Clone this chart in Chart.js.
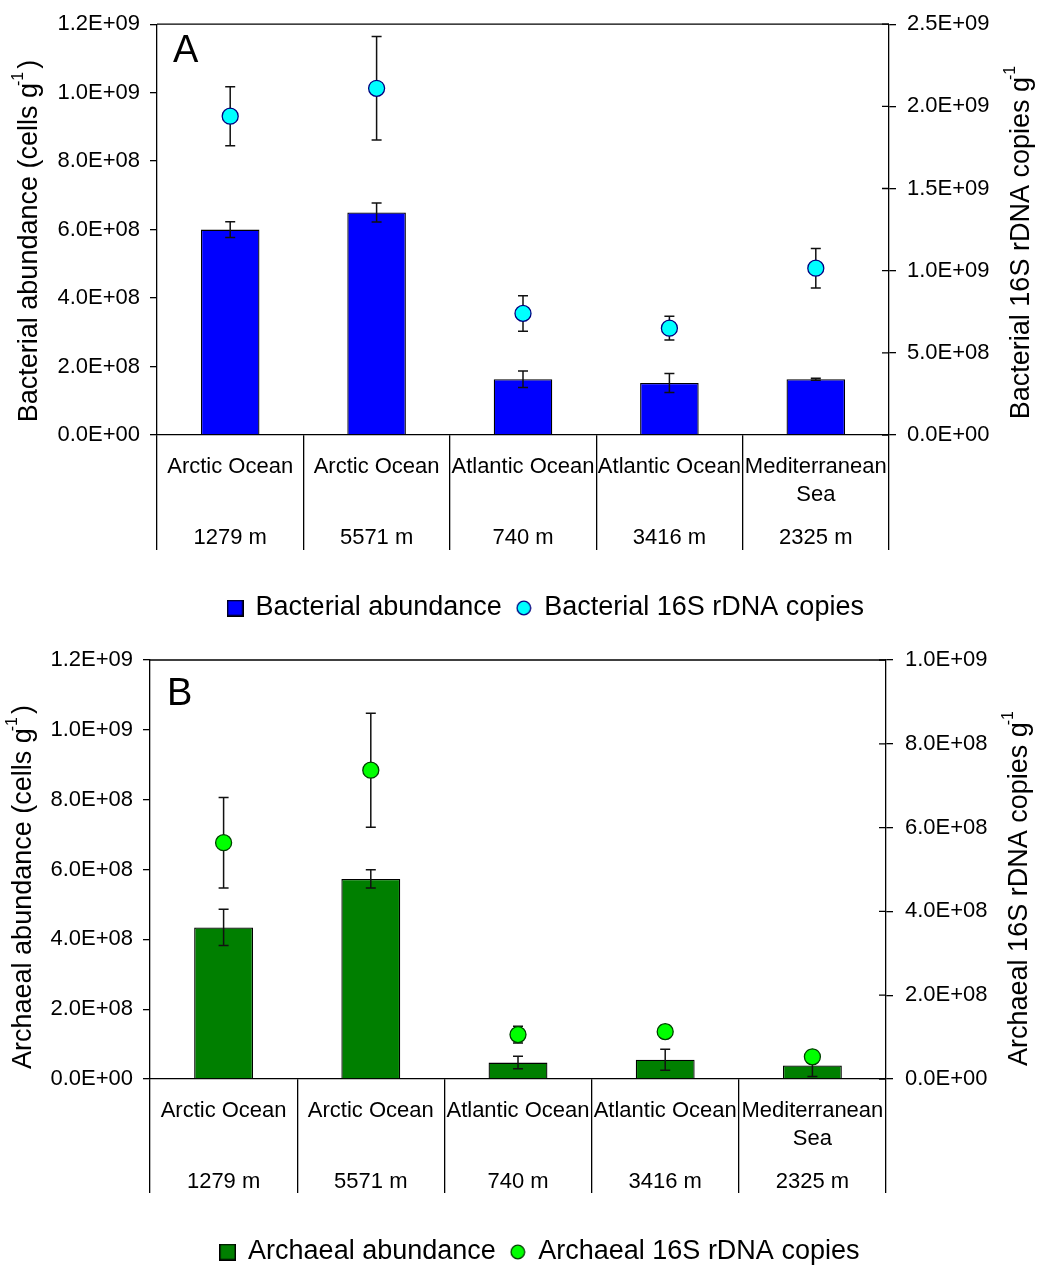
<!DOCTYPE html>
<html>
<head>
<meta charset="utf-8">
<script src="https://cdn.jsdelivr.net/npm/chart.js@4.4.0/dist/chart.umd.min.js"></script>
<style>
  html, body { margin: 0; padding: 0; background: #fff; overflow: hidden; }
  canvas { position: absolute; left: 0; }
  #chartA { top: 0; }
  #chartB { top: 634px; }
</style>
</head>
<body>
<canvas id="chartA" width="1042" height="634"></canvas>
<canvas id="chartB" width="1042" height="646"></canvas>
<script>
// categories (site name lines + depth)
const siteNames = [["Arctic Ocean"], ["Arctic Ocean"], ["Atlantic Ocean"], ["Atlantic Ocean"], ["Mediterranean", "Sea"]];
const depths = ["1279 m", "5571 m", "740 m", "3416 m", "2325 m"];

// panel A - bacteria
const bactAbundance = [6.0e8, 6.5e8, 1.63e8, 1.52e8, 1.63e8];
const bactAbundanceErr = [2.3e7, 2.8e7, 2.4e7, 2.8e7, 3e6];
const bactCopies = [1.94e9, 2.11e9, 7.4e8, 6.5e8, 1.015e9];
const bactCopiesErr = [1.8e8, 3.15e8, 1.08e8, 7.2e7, 1.2e8];

// panel B - archaea
const archAbundance = [4.34e8, 5.73e8, 4.7e7, 5.5e7, 3.9e7];
const archAbundanceErr = [5.2e7, 2.6e7, 1.8e7, 3.0e7, 3.2e7];
const archCopies = [5.64e8, 7.37e8, 1.06e8, 1.13e8, 5.3e7];
const archCopiesErr = [1.08e8, 1.36e8, 2.0e7, 1.5e7, 1.5e7];

// axis ticks
const abundanceTicks = [0, 2e8, 4e8, 6e8, 8e8, 1.0e9, 1.2e9];
const bactCopyTicks = [0, 5e8, 1.0e9, 1.5e9, 2.0e9, 2.5e9];
const archCopyTicks = [0, 2e8, 4e8, 6e8, 8e8, 1.0e9];

const FONT = "'Liberation Sans', Arial, Helvetica, sans-serif";
Chart.defaults.font.family = FONT;
Chart.defaults.color = "#000";

function fmtE(v) {
  const [m, e] = Number(v).toExponential(1).split("e");
  const sign = e[0] === "-" ? "-" : "+";
  return m + "E" + sign + e.replace(/[+-]/, "").padStart(2, "0");
}

function legendSquare(fill) {
  const c = document.createElement("canvas");
  c.width = 17; c.height = 17;
  const g = c.getContext("2d");
  g.fillStyle = fill;
  g.fillRect(0, 0, 17, 17);
  g.strokeStyle = "#000";
  g.lineWidth = 1.5;
  g.strokeRect(0.75, 0.75, 15.5, 15.5);
  return c;
}

function legendCircle(fill, stroke) {
  const c = document.createElement("canvas");
  c.width = 16; c.height = 16;
  const g = c.getContext("2d");
  g.beginPath();
  g.arc(8, 8, 6.8, 0, Math.PI * 2);
  g.fillStyle = fill;
  g.fill();
  g.strokeStyle = stroke;
  g.lineWidth = 1.3;
  g.stroke();
  return c;
}

function drawErrors(chart, di, axisId, values, errs) {
  const ctx = chart.ctx;
  const meta = chart.getDatasetMeta(di);
  const scale = chart.scales[axisId];
  ctx.save();
  ctx.strokeStyle = "#111";
  ctx.lineWidth = 1.5;
  meta.data.forEach((el, i) => {
    const x = el.x;
    const top = scale.getPixelForValue(values[i] + errs[i]);
    const bot = scale.getPixelForValue(Math.max(0, values[i] - errs[i]));
    ctx.beginPath();
    ctx.moveTo(x, top); ctx.lineTo(x, bot);
    ctx.moveTo(x - 5, top); ctx.lineTo(x + 5, top);
    ctx.moveTo(x - 5, bot); ctx.lineTo(x + 5, bot);
    ctx.stroke();
  });
  ctx.restore();
}

function drawTitle(ctx, x, y, text) {
  // text followed by superscript -1 and a closing part
  ctx.save();
  ctx.translate(x, y);
  ctx.rotate(-Math.PI / 2);
  ctx.textBaseline = "middle";
  ctx.textAlign = "left";
  const big = "27px " + FONT, small = "16px " + FONT;
  ctx.font = big;
  const w1 = ctx.measureText(text.main).width;
  const w3 = ctx.measureText(text.after).width;
  ctx.font = small;
  const w2 = ctx.measureText("-1").width;
  let cx = -(w1 + w2 + w3) / 2;
  ctx.font = big;
  ctx.fillText(text.main, cx, 0);
  cx += w1;
  ctx.font = small;
  ctx.fillText("-1", cx - 3, -11);
  cx += w2;
  ctx.font = big;
  ctx.fillText(text.after, cx, 0);
  ctx.restore();
}

function makeChart(id, cfg) {
  const H = cfg.height;
  const padBottom = H - cfg.legendY - 23.5;

  const panelPlugin = {
    id: "panel" + id,
    afterLayout(chart) {
      chart.legend.left += cfg.legendShift;
      chart.legend.right += cfg.legendShift;
    },
    afterDatasetDraw(chart, args) {
      if (args.index === 0) drawErrors(chart, 0, "y", cfg.bars, cfg.barsErr);
    },
    beforeDatasetDraw(chart, args) {
      if (args.index === 1) drawErrors(chart, 1, "y1", cfg.points, cfg.pointsErr);
    },
    afterDraw(chart) {
      const ctx = chart.ctx;
      const a = chart.chartArea;
      ctx.save();
      ctx.strokeStyle = "#000";
      ctx.lineWidth = 1.3;
      // frame top
      ctx.beginPath();
      ctx.moveTo(a.left, a.top); ctx.lineTo(a.right, a.top);
      ctx.stroke();
      // inner half of right axis ticks
      const y1 = chart.scales.y1;
      ctx.beginPath();
      y1.ticks.forEach(t => {
        const y = y1.getPixelForValue(t.value);
        ctx.moveTo(a.right - 7, y); ctx.lineTo(a.right, y);
      });
      ctx.stroke();
      // category labels
      const xs = chart.scales.x;
      ctx.fillStyle = "#000";
      ctx.font = "22px " + FONT;
      ctx.textAlign = "center";
      ctx.textBaseline = "middle";
      siteNames.forEach((lines, i) => {
        const x = xs.getPixelForValue(i);
        lines.forEach((ln, k) => ctx.fillText(ln, x, a.bottom + 32 + 28 * k));
        ctx.fillText(depths[i], x, a.bottom + 103);
      });
      // panel letter
      ctx.font = "38px " + FONT;
      ctx.textAlign = "left";
      ctx.textBaseline = "alphabetic";
      ctx.fillText(cfg.letter, cfg.letterX, cfg.letterY);
      ctx.restore();
      drawTitle(ctx, cfg.leftTitleX, cfg.titleY, cfg.leftTitle);
      drawTitle(ctx, cfg.rightTitleX, cfg.titleY, cfg.rightTitle);
    }
  };

  return new Chart(document.getElementById(id), {
    type: "bar",
    data: {
      labels: depths,
      datasets: [
        {
          label: cfg.barLabel,
          data: cfg.bars,
          yAxisID: "y",
          backgroundColor: cfg.barColor,
          borderColor: "#000",
          borderWidth: 1.3,
          barPercentage: 0.4,
          categoryPercentage: 1.0,
          order: 2
        },
        {
          type: "line",
          label: cfg.pointLabel,
          data: cfg.points,
          yAxisID: "y1",
          showLine: false,
          pointRadius: 8,
          pointHoverRadius: 8,
          pointBorderWidth: 1.3,
          backgroundColor: cfg.pointColor,
          borderColor: cfg.pointBorder,
          order: 1
        }
      ]
    },
    options: {
      responsive: false,
      animation: false,
      events: [],
      layout: { padding: { top: cfg.plotTop, left: 0, right: 0, bottom: padBottom } },
      scales: {
        x: {
          offset: true,
          grid: { drawOnChartArea: false, offset: true, tickLength: cfg.sepLen, color: "#000", lineWidth: 1.3 },
          border: { color: "#000", width: 1.3 },
          ticks: { display: false },
          afterFit: s => { s.height = (H - padBottom - s.chart.legend.height) - cfg.plotBottom; }
        },
        y: {
          position: "left",
          min: abundanceTicks[0],
          max: abundanceTicks[abundanceTicks.length - 1],
          afterBuildTicks: s => { s.ticks = abundanceTicks.map(v => ({ value: v })); },
          afterFit: s => { s.width = cfg.leftW; },
          grid: { drawOnChartArea: false, tickLength: 7, color: "#000", lineWidth: 1.3 },
          border: { color: "#000", width: 1.3 },
          ticks: { font: { size: 22 }, color: "#000", padding: 10, callback: fmtE }
        },
        y1: {
          position: "right",
          min: cfg.rightTicks[0],
          max: cfg.rightTicks[cfg.rightTicks.length - 1],
          afterBuildTicks: s => { s.ticks = cfg.rightTicks.map(v => ({ value: v })); },
          afterFit: s => { s.width = cfg.rightW; },
          grid: { drawOnChartArea: false, tickLength: 7, color: "#000", lineWidth: 1.3 },
          border: { color: "#000", width: 1.3 },
          ticks: { font: { size: 22 }, color: "#000", padding: cfg.rightPad, callback: fmtE }
        }
      },
      plugins: {
        tooltip: { enabled: false },
        legend: {
          position: "bottom",
          labels: {
            font: { size: 27 },
            color: "#000",
            usePointStyle: true,
            boxWidth: 14,
            boxHeight: 14,
            padding: 15,
            generateLabels: chart => {
              const items = Chart.defaults.plugins.legend.labels.generateLabels(chart);
              items.sort((p, q) => p.datasetIndex - q.datasetIndex);
              items.forEach(it => {
                it.pointStyle = it.datasetIndex === 0
                  ? legendSquare(cfg.barColor)
                  : legendCircle(cfg.pointColor, cfg.pointBorder);
              });
              return items;
            }
          }
        }
      }
    },
    plugins: [panelPlugin]
  });
}

makeChart("chartA", {
  height: 634, plotTop: 18, plotBottom: 435, leftW: 157, rightW: 153, rightPad: 11,
  sepLen: 115, legendY: 608, legendShift: 25,
  letter: "A", letterX: 173, letterY: 62,
  leftTitleX: 30, rightTitleX: 1022, titleY: 241,
  leftTitle: { main: "Bacterial abundance (cells g", after: ")" },
  rightTitle: { main: "Bacterial 16S rDNA copies g", after: "" },
  barLabel: "Bacterial abundance", pointLabel: "Bacterial 16S rDNA copies",
  bars: bactAbundance, barsErr: bactAbundanceErr,
  points: bactCopies, pointsErr: bactCopiesErr,
  barColor: "#0000ff", pointColor: "#00ffff", pointBorder: "#000080",
  rightTicks: bactCopyTicks
});

makeChart("chartB", {
  height: 646, plotTop: 26, plotBottom: 445, leftW: 150, rightW: 156, rightPad: 12,
  sepLen: 114, legendY: 618, legendShift: 19,
  letter: "B", letterX: 167, letterY: 71,
  leftTitleX: 24, rightTitleX: 1020, titleY: 253,
  leftTitle: { main: "Archaeal abundance (cells g", after: ")" },
  rightTitle: { main: "Archaeal 16S rDNA copies g", after: "" },
  barLabel: "Archaeal abundance", pointLabel: "Archaeal 16S rDNA copies",
  bars: archAbundance, barsErr: archAbundanceErr,
  points: archCopies, pointsErr: archCopiesErr,
  barColor: "#007f00", pointColor: "#00ff00", pointBorder: "#004000",
  rightTicks: archCopyTicks
});
</script>
</body>
</html>
